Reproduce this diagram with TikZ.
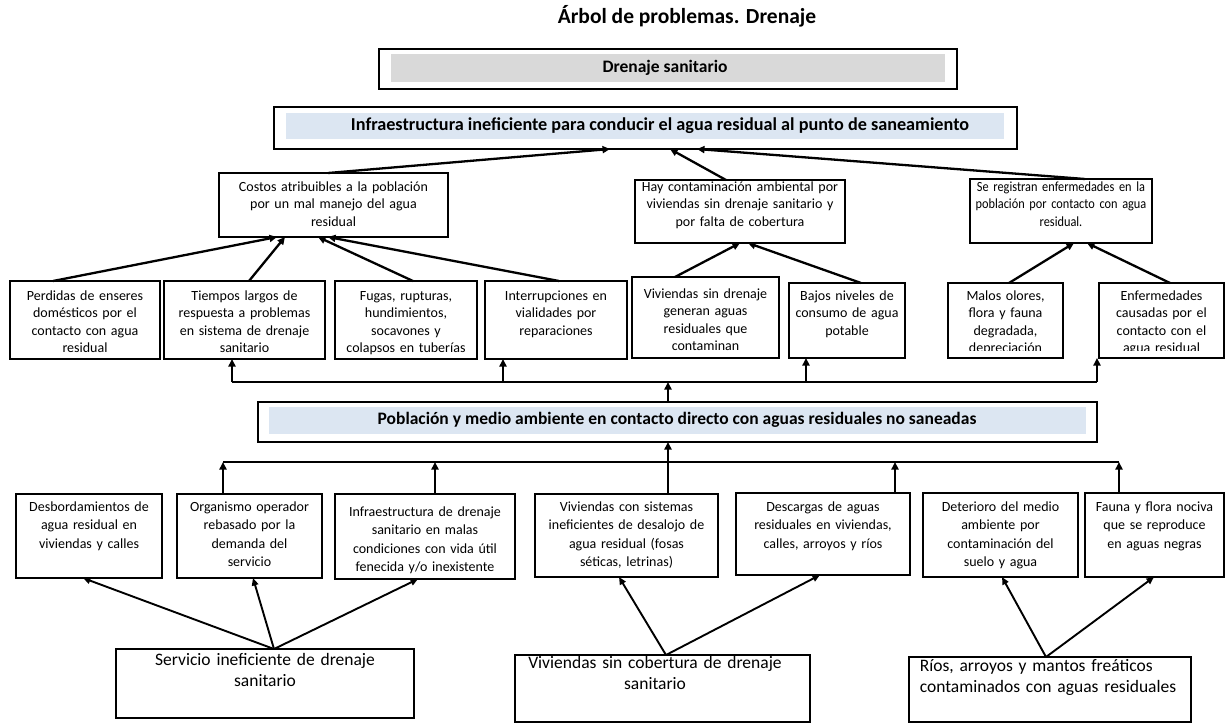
\documentclass[tikz,border=0pt]{standalone}
\usepackage{fontspec}
\setmainfont{Carlito}
\newfontfamily\condf{Carlito}[FakeStretch=0.88]
\usetikzlibrary{arrows.meta}
\definecolor{hdrgray}{RGB}{217,217,217}
\definecolor{hdrblue}{RGB}{220,230,242}
\newcommand\rfa{\fontsize{14}{17.5}\selectfont}
\newcommand\rfc{\condf\fontsize{14}{17.5}\selectfont}
\newcommand\rfb{\fontsize{14}{18.3}\selectfont}
\newcommand\bfc{\fontsize{17.5}{21.5}\selectfont}
\newcommand\hdf{\fontsize{17.5}{21}\selectfont\bfseries}
\newsavebox\lastline
\tikzset{
  bx/.style={draw=black, line width=1.1pt, inner sep=0pt, outer sep=0pt, rectangle},
  hbx/.style={bx, line width=1.4pt},
  txt/.style={inner sep=0pt, align=center, anchor=north},
  arr/.style={line width=2.3pt, -{Triangle[length=7.5pt,width=7pt]}},
  darr/.style={line width=1.9pt, -{Triangle[length=7.5pt,width=6.5pt]}},
  bus/.style={line width=1.2pt},
}
% box: [style]{name}{x1}{y1}{x2}{y2}
\newcommand\bx[6][bx]{\node[#1, minimum width={(#5)-(#3)}, minimum height={(#6)-(#4)}] (#2) at ({((#3)+(#5))/2},{((#4)+(#6))/2}) {};}
% text: {name}{font}{x}{first line centre}{width}{offset}{text}
\newcommand\tx[7]{\node[txt, font=#2, text width=#5pt] (#1) at (#3,{(#4)-(#6)}) {\strut #7};}
\begin{document}
\begin{tikzpicture}[x=1pt,y=-1pt]
\fill[white] (0,0) rectangle (1226,723);
\useasboundingbox (0,0) rectangle (1226,723);

% title
\node[font=\fontsize{21.5}{25}\selectfont\bfseries] (title) at (687,16) {Árbol de problemas. Drenaje};

% header boxes
\fill[hdrgray] (391,54) rectangle (945,82);
\bx[hbx]{dren}{379}{49}{957}{89}
\node[font=\hdf] (drent) at (665,68) {Drenaje sanitario};

\fill[hdrblue] (286,113) rectangle (1004,139);
\bx[hbx]{infra}{274}{107}{1017}{149}
\node[font=\fontsize{18.2}{21}\selectfont\bfseries] (infrat) at (660,126) {Infraestructura ineficiente para conducir el agua residual al punto de saneamiento};

\fill[hdrblue] (269,407) rectangle (1086,434);
\bx[hbx]{pob}{258}{402}{1097}{442}
\node[font=\hdf] (pobt) at (677,420) {Población y medio ambiente en contacto directo con aguas residuales no saneadas};

% effects (upper)
\bx{costos}{219}{173}{448}{237}
\bx{hay}{635}{180}{845}{243}
\bx{seg}{970}{179}{1152}{243}
\tx{costost}{\rfa}{333.5}{188}{250}{9}{Costos atribuibles a la población\\por un mal manejo del agua\\residual}
\tx{hayt}{\rfa}{740}{188}{240}{9}{Hay contaminación ambiental por\\viviendas sin drenaje sanitario y\\por falta de cobertura}
\tx{segt}{\rfc}{1061}{188}{220}{9}{Se registran enfermedades en la\\población por contacto con agua\\residual.}

% effects row
\bx{b1}{10}{281}{160}{359}
\bx{b2}{164}{281}{325}{359}
\bx{b3}{335}{281}{477}{359}
\bx{b4}{485}{281}{627}{359}
\bx{b5}{632}{277}{779}{358}
\bx{b6}{789}{283}{905}{358}
\bx{b7}{948}{283}{1063}{358}
\bx{b8}{1099}{283}{1224}{358}
\tx{b1t}{\rfa}{85}{297}{180}{9}{Perdidas de enseres\\domésticos por el\\contacto con agua\\residual}
\tx{b2t}{\rfa}{244.5}{297}{190}{9}{Tiempos largos de\\respuesta a problemas\\en sistema de drenaje\\sanitario}
\tx{b3t}{\rfa}{406}{297}{170}{9}{Fugas, rupturas,\\hundimientos,\\socavones y\\colapsos en tuberías}
\tx{b4t}{\rfa}{556}{297}{170}{9}{Interrupciones en\\vialidades por\\reparaciones}
\tx{b5t}{\rfa}{705.5}{295}{180}{9}{Viviendas sin drenaje\\generan aguas\\residuales que\\contaminan}
\tx{b6t}{\rfa}{847}{297}{150}{9}{Bajos niveles de\\consumo de agua\\potable}
\begin{scope}
\clip (b7.north west) rectangle ([yshift=8pt]b7.south east);
\tx{b7t}{\rfa}{1005.5}{297}{150}{9}{Malos olores,\\flora y fauna\\degradada,\\depreciación}
\end{scope}
\begin{scope}
\clip (b8.north west) rectangle ([yshift=8pt]b8.south east);
\tx{b8t}{\rfa}{1161.5}{297}{150}{9}{Enfermedades\\causadas por el\\contacto con el\\agua residual}
\end{scope}

% causes row
\bx{cA}{16}{494}{162}{578}
\bx{cB}{177}{494}{322}{578}
\bx{cC}{335}{494}{515}{579}
\bx{cD}{535}{494}{718}{577}
\bx{cE}{736}{493}{910}{575}
\bx{cF}{923}{493}{1078}{577}
\bx{cG}{1085}{493}{1224}{577}
\tx{cAt}{\rfb}{89}{508}{170}{9.5}{Desbordamientos de\\agua residual en\\viviendas y calles}
\tx{cBt}{\rfb}{249.5}{508}{170}{9.5}{Organismo operador\\rebasado por la\\demanda del\\servicio}
\tx{cCt}{\rfb}{425}{513}{200}{9.5}{Infraestructura de drenaje\\sanitario en malas\\condiciones con vida útil\\fenecida y/o inexistente}
\tx{cDt}{\rfb}{626.5}{508}{200}{9.5}{Viviendas con sistemas\\ineficientes de desalojo de\\agua residual (fosas\\séticas, letrinas)}
\tx{cEt}{\rfb}{823}{508}{200}{9.5}{Descargas de aguas\\residuales en viviendas,\\calles, arroyos y ríos}
\tx{cFt}{\rfb}{1000.5}{508}{180}{9.5}{Deterioro del medio\\ambiente por\\contaminación del\\suelo y agua}
\tx{cGt}{\rfb}{1154.5}{508}{160}{9.5}{Fauna y flora nociva\\que se reproduce\\en aguas negras}

% root causes
\bx{s1}{116}{649}{414}{718}
\bx{s2}{515}{655}{810}{722}
\bx{s3}{909}{657}{1191}{722}
\tx{s1t}{\bfc}{265}{661}{300}{11}{Servicio ineficiente de drenaje\\sanitario}
\tx{s2t}{\bfc}{655}{664}{300}{11}{Viviendas sin cobertura de drenaje\\sanitario}
\tx{s3t}{\bfc}{1048}{667}{280}{11}{\sbox\lastline{contaminados con aguas residuales}\makebox[\wd\lastline][s]{Ríos, arroyos y mantos freáticos}\\\usebox\lastline}

% arrows into the central problem box
\draw[arr] ([xshift=109pt]costos.north west) -- ([xshift=336pt]infra.south west);
\draw[arr] ([xshift=91pt]hay.north west) -- ([xshift=396pt]infra.south west);
\draw[arr] ([xshift=115pt]seg.north west) -- ([xshift=423pt]infra.south west);

% arrows into upper effects
\draw[arr] ([xshift=43pt]b1.north west) -- ([xshift=58pt]costos.south west);
\draw[arr] ([xshift=85pt]b2.north west) -- ([xshift=66pt]costos.south west);
\draw[arr] ([xshift=78pt]b3.north west) -- ([xshift=99pt]costos.south west);
\draw[arr] ([xshift=74pt]b4.north west) -- ([xshift=109pt]costos.south west);
\draw[arr] ([xshift=43pt]b5.north west) -- ([xshift=105pt]hay.south west);
\draw[arr] ([xshift=72pt]b6.north west) -- ([xshift=113pt]hay.south west);
\draw[arr] ([xshift=61pt]b7.north west) -- ([xshift=104pt]seg.south west);
\draw[arr] ([xshift=71pt]b8.north west) -- ([xshift=117pt]seg.south west);

% upper bus
\coordinate (ub0) at (668,382);
\coordinate (ub1) at (232,382);
\coordinate (ub2) at (503,382);
\coordinate (ub3) at (806,382);
\coordinate (ub4) at (1097,382);
\draw[bus] (ub1) -- (ub4);
\draw[arr] (ub1) -- (ub1 |- b2.south);
\draw[arr] (ub2) -- (ub2 |- b4.south);
\draw[arr] (ub3) -- (ub3 |- b6.south);
\draw[arr] (ub4) -- (ub4 |- b8.south);
\draw[arr] (ub0 |- pob.north) -- (ub0);

% lower bus
\coordinate (lb0) at (668,462);
\coordinate (lb1) at (223,462);
\coordinate (lb2) at (435,462);
\coordinate (lb3) at (895,462);
\coordinate (lb4) at (1119,462);
\draw[bus] (lb1) -- (lb4);
\draw[arr] (lb1 |- cB.north) -- (lb1);
\draw[arr] (lb2 |- cC.north) -- (lb2);
\draw[arr] (lb3 |- cE.north) -- (lb3);
\draw[arr] (lb4 |- cG.north) -- (lb4);
\draw[arr] (lb0 |- cD.north) -- (lb0 |- pob.south);

% arrows from root causes
\draw[darr] ([xshift=158pt]s1.north west) -- ([xshift=67pt]cA.south west);
\draw[darr] ([xshift=158pt]s1.north west) -- ([xshift=76pt]cB.south west);
\draw[darr] ([xshift=158pt]s1.north west) -- ([xshift=83pt]cC.south west);
\draw[darr] ([xshift=151pt]s2.north west) -- ([xshift=84pt]cD.south west);
\draw[darr] ([xshift=151pt]s2.north west) -- ([xshift=84pt]cE.south west);
\draw[darr] ([xshift=137pt]s3.north west) -- ([xshift=79pt]cF.south west);
\draw[darr] ([xshift=137pt]s3.north west) -- ([xshift=69pt]cG.south west);
\end{tikzpicture}
\end{document}
